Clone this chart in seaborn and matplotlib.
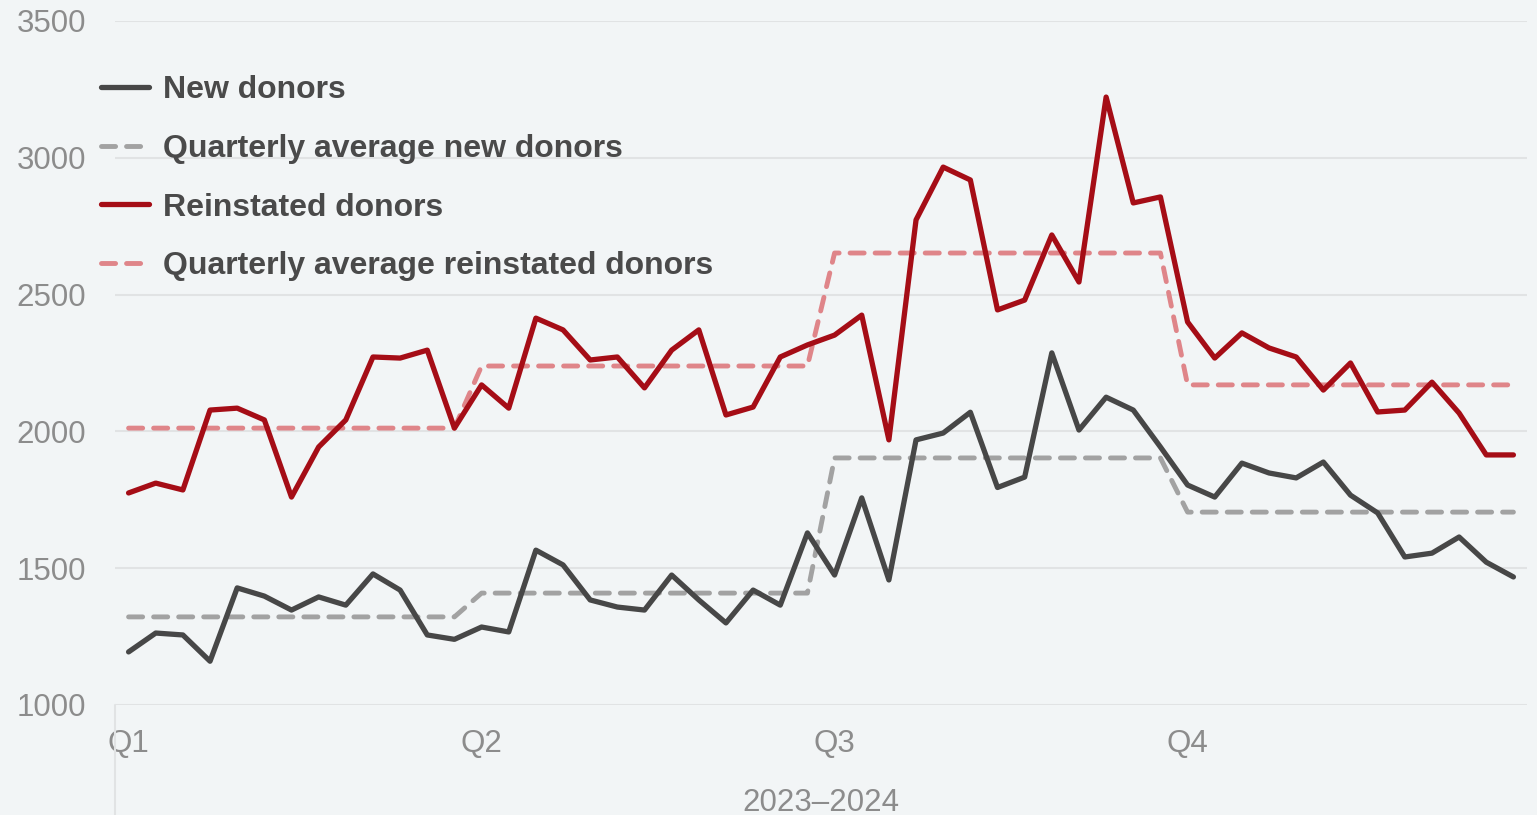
import numpy as np
import pandas as pd
import matplotlib
matplotlib.use("Agg")
import matplotlib.pyplot as plt
import seaborn as sns

# weekly values (52 weeks, 13 per quarter)
new_donors = [1194, 1263, 1256, 1160, 1428, 1398, 1347, 1395, 1365, 1479, 1420, 1256, 1240,
              1285, 1267, 1566, 1512, 1384, 1358, 1347, 1475, 1384, 1300, 1420, 1365, 1629,
              1475, 1757, 1457, 1969, 1994, 2070, 1795, 1833, 2287, 2005, 2125, 2078, 1943,
              1804, 1760, 1884, 1848, 1830, 1888, 1767, 1702, 1541, 1555, 1614, 1522, 1468]
reinstated = [1775, 1811, 1786, 2078, 2085, 2042, 1760, 1943, 2042, 2272, 2268, 2297, 2012,
              2170, 2085, 2414, 2371, 2261, 2272, 2159, 2297, 2371, 2060, 2089, 2272, 2316,
              2352, 2425, 1969, 2773, 2966, 2919, 2444, 2480, 2718, 2546, 3222, 2835, 2857,
              2400, 2268, 2360, 2305, 2272, 2151, 2250, 2071, 2078, 2180, 2067, 1914, 1914]
avg_new_q = [1322, 1409, 1903, 1705]
avg_reinst_q = [2012, 2239, 2652, 2170]
quarters = ["Q1", "Q2", "Q3", "Q4"]
weeks_per_q = 13

weeks = np.arange(len(new_donors))
df = pd.DataFrame({
    "week": weeks,
    "New donors": new_donors,
    "Quarterly average new donors": np.repeat(avg_new_q, weeks_per_q),
    "Reinstated donors": reinstated,
    "Quarterly average reinstated donors": np.repeat(avg_reinst_q, weeks_per_q),
})

bg = "#f2f5f6"
sns.set_style("white", {"axes.facecolor": bg, "figure.facecolor": bg})
plt.rcParams["font.family"] = ["Liberation Sans", "DejaVu Sans"]

fig = plt.figure(figsize=(15.37, 8.15), dpi=100)
ax = fig.add_axes([115 / 1537, 110 / 815, 1412 / 1537, 684 / 815])

dash = (0, (2.9, 2.25))
styles = {
    "New donors": dict(color="#474747", ls="-", lw=3.8),
    "Quarterly average new donors": dict(color="#a2a2a2", ls=dash, lw=3.5),
    "Reinstated donors": dict(color="#a50d16", ls="-", lw=3.8),
    "Quarterly average reinstated donors": dict(color="#df8589", ls=dash, lw=3.5),
}
order = ["Quarterly average new donors", "Quarterly average reinstated donors",
         "New donors", "Reinstated donors"]
for col in order:
    sns.lineplot(data=df, x="week", y=col, ax=ax, label=col,
                 solid_capstyle="round", dash_capstyle="round",
                 solid_joinstyle="round", **styles[col])

ax.set_xlim(-0.5, len(weeks) - 0.5)
ax.set_ylim(1000, 3500)
ax.set_yticks([1000, 1500, 2000, 2500, 3000, 3500])
ax.set_xticks(np.arange(0, len(weeks), weeks_per_q))
ax.set_xticklabels(quarters)
ax.grid(axis="y", color="#e1e3e4", lw=1.5)
ax.set_axisbelow(True)
for s in ax.spines.values():
    s.set_visible(False)
ax.tick_params(axis="both", length=0, labelsize=22.5, labelcolor="#8c8c8c")
ax.tick_params(axis="y", pad=21)
ax.tick_params(axis="x", pad=17.5)
ax.set_ylabel("")
ax.set_xlabel("2023\u20132024", fontsize=22.5, color="#8c8c8c", labelpad=20.5)

# separator below the category axis
ax.plot([-0.5, -0.5], [0, -0.17], transform=ax.get_xaxis_transform(),
        color="#e1e3e4", lw=1.5, clip_on=False)

h, l = ax.get_legend_handles_labels()
want = ["New donors", "Quarterly average new donors", "Reinstated donors",
        "Quarterly average reinstated donors"]
hh = [h[l.index(w)] for w in want]
leg = ax.legend(hh, want, loc="upper left", bbox_to_anchor=(101 / 1537, 1 - 75 / 815),
                bbox_transform=fig.transFigure, frameon=False,
                handlelength=1.5, handletextpad=0.45, labelspacing=0.9,
                borderpad=0, borderaxespad=0, prop={"weight": "bold", "size": 23})
for t in leg.get_texts():
    t.set_color("#4a4a4a")

fig.savefig("out.png", dpi=100, facecolor=bg)
